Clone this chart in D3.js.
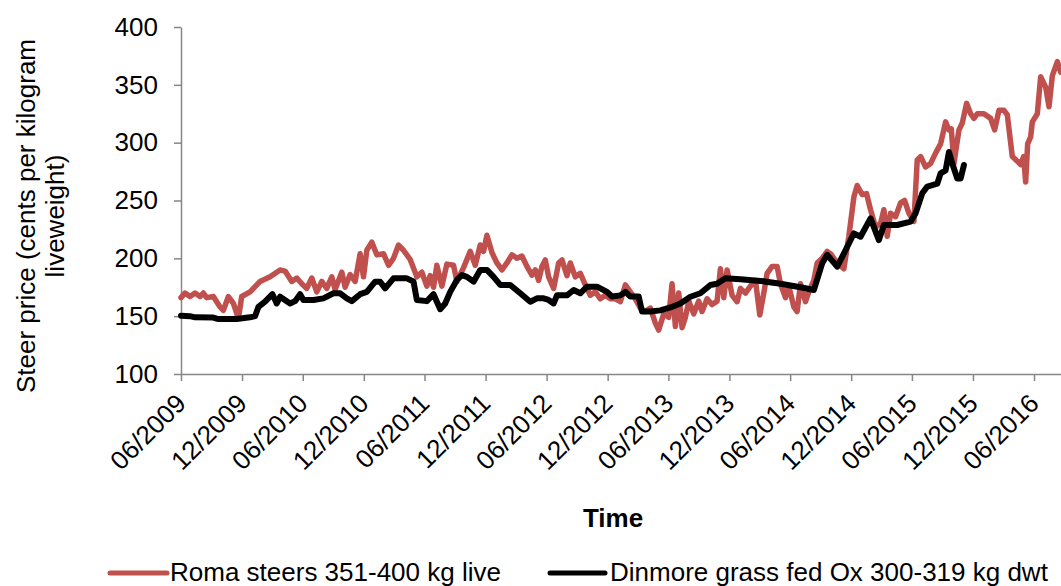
<!DOCTYPE html>
<html>
<head>
<meta charset="utf-8">
<script src="https://cdn.jsdelivr.net/npm/d3@7"></script>
<style>
  html, body { margin: 0; padding: 0; background: #fff; }
  svg { display: block; font-family: "Liberation Sans", Arial, sans-serif; }
</style>
</head>
<body>
<svg id="chart" width="1061" height="586"></svg>
<script>
// Axis ticks
const yTicks = [100, 150, 200, 250, 300, 350, 400];
const xTickDates = ["2009-06-01", "2009-12-01", "2010-06-01", "2010-12-01", "2011-06-01",
  "2011-12-01", "2012-06-01", "2012-12-01", "2013-06-01", "2013-12-01", "2014-06-01",
  "2014-12-01", "2015-06-01", "2015-12-01", "2016-06-01"];

// Roma steers 351-400 kg live (c/kg lwt), weekly sale prices
const romaSeries = [
  ["2009-06-01",166],["2009-06-13",170],["2009-06-28",167],["2009-07-13",170],["2009-07-28",167],
  ["2009-08-07",170],["2009-08-17",166],["2009-09-06",167],["2009-09-26",158],["2009-10-06",155],
  ["2009-10-21",167],["2009-11-05",161],["2009-11-20",148],["2009-11-30",167],["2009-12-25",171],
  ["2010-01-24",180],["2010-02-23",184],["2010-03-25",190],["2010-04-09",189],["2010-04-29",180],
  ["2010-05-14",183],["2010-05-29",178],["2010-06-13",174],["2010-06-28",183],["2010-07-13",171],
  ["2010-07-28",180],["2010-08-12",174],["2010-08-27",184],["2010-09-06",173],["2010-09-26",188],
  ["2010-10-06",175],["2010-10-21",186],["2010-11-05",180],["2010-11-20",204],["2010-11-30",184],
  ["2010-12-10",207],["2010-12-25",214],["2011-01-09",203],["2011-01-29",204],["2011-02-13",194],
  ["2011-02-28",200],["2011-03-15",211.5],["2011-03-30",207],["2011-04-19",199],["2011-05-09",184],
  ["2011-05-24",188],["2011-06-08",176],["2011-06-18",185],["2011-06-28",175],["2011-07-08",194],
  ["2011-07-23",176],["2011-08-07",195],["2011-08-27",194],["2011-09-06",180],["2011-09-26",192],
  ["2011-10-16",206],["2011-10-31",194],["2011-11-15",211.5],["2011-11-25",206],["2011-12-05",220],
  ["2011-12-20",205],["2012-01-04",196],["2012-01-19",190],["2012-02-03",196],["2012-02-18",203],
  ["2012-03-04",200],["2012-03-19",202],["2012-04-03",193],["2012-04-18",185.5],["2012-04-28",190],
  ["2012-05-08",181],["2012-05-18",193],["2012-05-28",198.6],["2012-06-07",184],["2012-06-22",174],
  ["2012-07-07",196],["2012-07-17",198.6],["2012-08-01",185],["2012-08-11",196],["2012-08-26",184],
  ["2012-09-10",187],["2012-09-25",177],["2012-10-10",168],["2012-10-25",171],["2012-11-09",165],
  ["2012-11-24",168],["2012-12-09",165],["2012-12-24",165],["2013-01-08",162.5],["2013-01-23",177],
  ["2013-02-07",171],["2013-02-22",165],["2013-03-09",157],["2013-03-24",154],["2013-04-08",157],
  ["2013-04-23",144],["2013-05-03",138],["2013-05-18",152],["2013-06-02",149],["2013-06-12",178],
  ["2013-06-22",141],["2013-07-02",170],["2013-07-12",140],["2013-07-22",149],["2013-08-01",163],
  ["2013-08-16",152],["2013-08-31",163],["2013-09-10",154],["2013-09-25",165],["2013-10-10",160],
  ["2013-10-25",163],["2013-11-04",191],["2013-11-14",166],["2013-11-24",190],["2013-12-09",168],
  ["2013-12-24",162.5],["2014-01-03",174],["2014-01-18",170],["2014-02-02",176],["2014-02-17",181],
  ["2014-03-02",151],["2014-03-14",170],["2014-03-24",187],["2014-04-08",193],["2014-04-23",193],
  ["2014-05-03",178],["2014-05-18",166],["2014-05-28",176],["2014-06-12",158],["2014-06-22",154],
  ["2014-07-02",178],["2014-07-17",162.5],["2014-07-27",171],["2014-08-11",181],["2014-08-21",196],
  ["2014-09-05",200],["2014-09-20",206],["2014-09-30",204],["2014-10-20",196],["2014-11-09",191],
  ["2014-11-24",219],["2014-12-09",253],["2014-12-19",263],["2015-01-03",255],["2015-01-16",256],
  ["2015-01-28",242],["2015-02-12",227],["2015-02-27",230],["2015-03-09",242],["2015-03-19",219],
  ["2015-03-29",239],["2015-04-13",236],["2015-04-28",248],["2015-05-10",250],["2015-05-23",239],
  ["2015-06-07",232],["2015-06-17",285],["2015-06-27",288],["2015-07-12",279],["2015-07-27",282],
  ["2015-08-11",291],["2015-08-26",299],["2015-09-10",318],["2015-09-20",311],["2015-09-27",312],
  ["2015-10-05",282],["2015-10-20",311],["2015-10-30",317],["2015-11-12",334],["2015-11-24",325],
  ["2015-12-04",321],["2015-12-14",325],["2016-01-03",325],["2016-01-23",321],["2016-02-04",311],
  ["2016-02-17",328],["2016-03-03",328],["2016-03-13",324],["2016-03-28",288],["2016-04-12",284],
  ["2016-04-22",281],["2016-05-01",288],["2016-05-07",266],["2016-05-13",299],["2016-05-22",305],
  ["2016-05-27",318],["2016-06-11",325],["2016-06-21",357],["2016-07-06",348],["2016-07-16",331],
  ["2016-07-26",358],["2016-08-10",370],["2016-08-20",361],["2016-08-27",362]
];

// Dinmore grass fed Ox 300-319 kg dwt (converted to c/kg lwt)
const dinmoreSeries = [
  ["2009-06-01",150.4],["2009-06-28",150],["2009-07-13",149],["2009-09-06",148.8],["2009-09-21",147.5],
  ["2009-11-15",147.5],["2009-12-25",149],["2010-01-09",150],["2010-01-19",158],["2010-02-08",162.5],
  ["2010-03-02",169],["2010-03-15",161],["2010-03-25",166.8],["2010-04-24",161],["2010-05-09",163],
  ["2010-05-24",169],["2010-06-03",164],["2010-07-03",164],["2010-08-02",165.4],["2010-09-01",169.8],
  ["2010-09-21",169.8],["2010-10-11",165.4],["2010-10-26",163],["2010-11-20",169],["2010-12-10",171],
  ["2011-01-04",179.8],["2011-01-19",179.8],["2011-02-03",174],["2011-02-28",182.7],["2011-04-09",182.7],
  ["2011-04-29",180],["2011-05-09",164],["2011-06-08",163],["2011-06-28",169],["2011-07-18",156],
  ["2011-08-02",161],["2011-08-17",171],["2011-09-06",181.3],["2011-09-21",185.5],["2011-10-06",184],
  ["2011-10-26",179.8],["2011-11-15",190],["2011-12-05",190],["2011-12-25",184],["2012-01-14",177],
  ["2012-02-13",177],["2012-03-14",169.8],["2012-04-13",162.5],["2012-05-03",165.4],["2012-05-23",165.4],
  ["2012-06-07",164],["2012-06-22",161],["2012-07-02",168],["2012-08-01",168],["2012-08-21",172.6],
  ["2012-09-10",169.8],["2012-09-30",175.5],["2012-10-30",175.5],["2012-11-29",171],["2012-12-14",167],
  ["2013-01-08",168],["2013-01-23",171],["2013-02-07",167],["2013-03-04",167],["2013-03-14",154],
  ["2013-04-08",154],["2013-05-08",155],["2013-06-07",157.5],["2013-07-07",161],["2013-08-06",166.8],
  ["2013-09-05",169.8],["2013-10-05",177],["2013-10-25",178],["2013-11-19",182.7],["2014-01-03",182],
  ["2014-03-04",180.5],["2014-05-03",178],["2014-07-02",175],["2014-08-11",172.6],["2014-09-05",195.7],
  ["2014-09-20",203],["2014-10-20",192.8],["2014-11-14",207],["2014-12-09",221.6],["2014-12-29",218.7],
  ["2015-01-28",234.6],["2015-02-22",215.8],["2015-03-09",228.8],["2015-04-18",228.8],["2015-05-28",231.7],
  ["2015-06-12",238.9],["2015-07-02",256.2],["2015-07-17",262],["2015-08-16",264.5],["2015-08-26",273.5],
  ["2015-09-10",276],["2015-09-20",292],["2015-09-30",282],["2015-10-15",269],["2015-10-25",269],
  ["2015-11-04",280.7]
];

const seriesNames = ["Roma steers 351-400 kg live", "Dinmore grass fed Ox 300-319 kg dwt"];
const seriesColors = ["#C0504D", "#000000"];
const axisTitleY = ["Steer price (cents per kilogram", "liveweight)"];
const axisTitleX = "Time";

const W = 1061, H = 586;
const FONT = 26;
const axisColor = "#868686";

const parse = d3.timeParse("%Y-%m-%d");
const fmt = d3.timeFormat("%m/%Y");

// Seven-year span between the first and last labelled ticks; the axis runs on to the right edge.
const xSpan = d3.scaleTime()
  .domain([parse("2009-06-01"), parse("2016-06-01")])
  .range([181, 1034]);
const x = d3.scaleTime()
  .domain([xSpan.domain()[0], xSpan.invert(W)])
  .range([181, W]);
const y = d3.scaleLinear().domain([100, 400]).range([374, 27]);

const svg = d3.select("#chart");

// Y axis
const yAxis = svg.append("g")
  .attr("transform", `translate(${x.range()[0]},0)`)
  .call(d3.axisLeft(y).tickValues(yTicks).tickSize(7).tickSizeOuter(0).tickPadding(16));
yAxis.select(".domain").attr("stroke", axisColor).attr("stroke-width", 1.5);
yAxis.selectAll(".tick line").attr("stroke", axisColor).attr("stroke-width", 1.5);
yAxis.selectAll(".tick text")
  .attr("font-size", FONT).attr("fill", "#000")
  .attr("font-family", "Liberation Sans, Arial, sans-serif");

// X axis
const xAxis = svg.append("g")
  .attr("transform", `translate(0,${y(100)})`)
  .call(d3.axisBottom(x).tickValues(xTickDates.map(parse)).tickFormat(fmt)
    .tickSize(7).tickSizeOuter(0));
xAxis.select(".domain").attr("stroke", axisColor).attr("stroke-width", 1.5);
xAxis.selectAll(".tick line").attr("stroke", axisColor).attr("stroke-width", 1.5);
xAxis.selectAll(".tick text")
  .attr("font-size", FONT).attr("fill", "#000")
  .attr("font-family", "Liberation Sans, Arial, sans-serif")
  .attr("x", 0).attr("y", 0).attr("dy", 0)
  .attr("text-anchor", "end")
  .attr("transform", "translate(6,31) rotate(-45)");

// Axis titles
const yTitle = svg.append("g").attr("font-size", FONT).attr("fill", "#000");
yTitle.append("text")
  .attr("transform", "translate(35,216) rotate(-90)")
  .attr("text-anchor", "middle").text(axisTitleY[0]);
yTitle.append("text")
  .attr("transform", "translate(64,216) rotate(-90)")
  .attr("text-anchor", "middle").text(axisTitleY[1]);

svg.append("text")
  .attr("x", 613).attr("y", 527)
  .attr("text-anchor", "middle")
  .attr("font-size", FONT).attr("font-weight", "bold")
  .text(axisTitleX);

// Series lines
const line = d3.line()
  .x(d => x(parse(d[0])))
  .y(d => y(d[1]));

svg.append("path")
  .datum(romaSeries)
  .attr("fill", "none")
  .attr("stroke", seriesColors[0])
  .attr("stroke-width", 5.5)
  .attr("stroke-linejoin", "round")
  .attr("stroke-linecap", "round")
  .attr("d", line);

svg.append("path")
  .datum(dinmoreSeries)
  .attr("fill", "none")
  .attr("stroke", seriesColors[1])
  .attr("stroke-width", 6)
  .attr("stroke-linejoin", "round")
  .attr("stroke-linecap", "round")
  .attr("d", line);

// Legend
const legendItems = [
  { x0: 110, x1: 167, tx: 170 },
  { x0: 550, x1: 605, tx: 610 }
];
const legend = svg.append("g");
legendItems.forEach((it, i) => {
  legend.append("line")
    .attr("x1", it.x0).attr("x2", it.x1)
    .attr("y1", 573).attr("y2", 573)
    .attr("stroke", seriesColors[i])
    .attr("stroke-width", 5)
    .attr("stroke-linecap", "round");
  legend.append("text")
    .attr("x", it.tx).attr("y", 581)
    .attr("font-size", FONT).attr("fill", "#000")
    .text(seriesNames[i]);
});
</script>
</body>
</html>
